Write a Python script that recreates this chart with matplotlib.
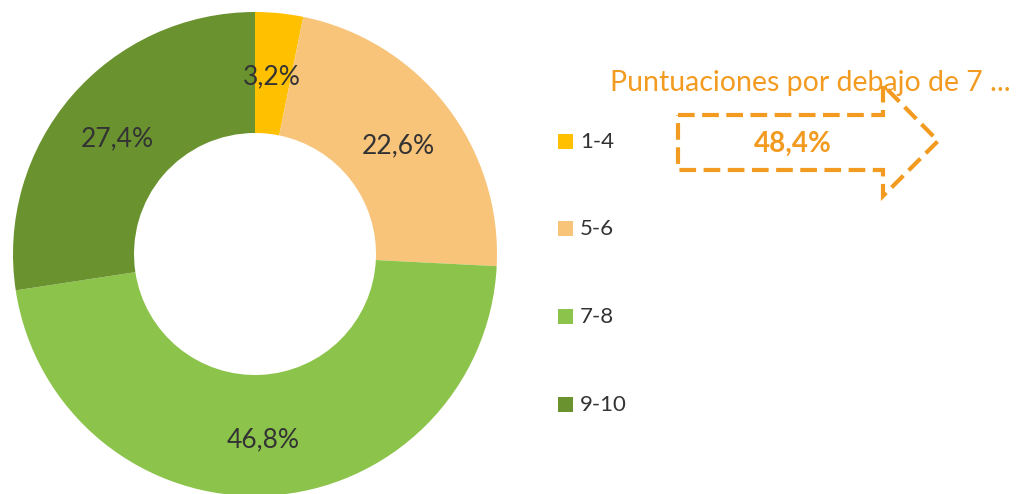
import matplotlib.pyplot as plt
from matplotlib.patches import Polygon, Rectangle

# datos del grafico
categorias = ["1-4", "5-6", "7-8", "9-10"]
porcentajes = [3.2, 22.6, 46.8, 27.4]
colores = ["#FFC000", "#F7C47A", "#8CC34B", "#6A922F"]
titulo_flecha = "Puntuaciones por debajo de 7 ..."
valor_flecha = "48,4%"

naranja = "#F29B20"
gris = "#333333"
fuente = ["Lato", "DejaVu Sans"]

W, H = 1018, 494
fig = plt.figure(figsize=(W / 100, H / 100), dpi=100)
ax = fig.add_axes([0, 0, 1, 1])

# donut
cx, cy, r = 255, H - 254, 242
wedges, _ = ax.pie(porcentajes, colors=colores, startangle=90, counterclock=False,
                   center=(cx, cy), radius=r, frame=True,
                   wedgeprops=dict(width=r * 0.5, edgecolor="white", linewidth=0))
ax.set_xlim(0, W)
ax.set_ylim(0, H)
ax.set_aspect("equal")
ax.axis("off")

# etiquetas de porcentaje
pos_etiquetas = [(272, 77), (398, 146), (263, 440), (117, 139)]
for (x, y), v in zip(pos_etiquetas, porcentajes):
    ax.text(x, H - y, f"{v:.1f}".replace(".", ",") + "%", ha="center", va="center",
            fontsize=19, color=gris, family=fuente)

# leyenda
ley_y = [142, 229, 317, 405]
for cat, col, y in zip(categorias, colores, ley_y):
    ax.add_patch(Rectangle((558, H - y - 7.5), 15, 15, facecolor=col, edgecolor="none"))
    ax.text(580, H - y, cat, ha="left", va="center", fontsize=16, color=gris, family=fuente)

# flecha discontinua
pts = [(678, 115), (883, 115), (883, 85), (938, 141), (883, 196), (883, 170), (678, 170)]
ax.add_patch(Polygon([(x, H - y) for x, y in pts], closed=True, fill=False,
                     edgecolor=naranja, linewidth=3, linestyle=(0, (4, 1.8))))
ax.text(810, H - 83, titulo_flecha, ha="center", va="center", fontsize=20.5,
        color=naranja, family=fuente)
ax.text(793, H - 144, valor_flecha, ha="center", va="center", fontsize=20,
        color=naranja, fontweight="bold", family=fuente)

fig.savefig("out.png", dpi=100, facecolor="white")
